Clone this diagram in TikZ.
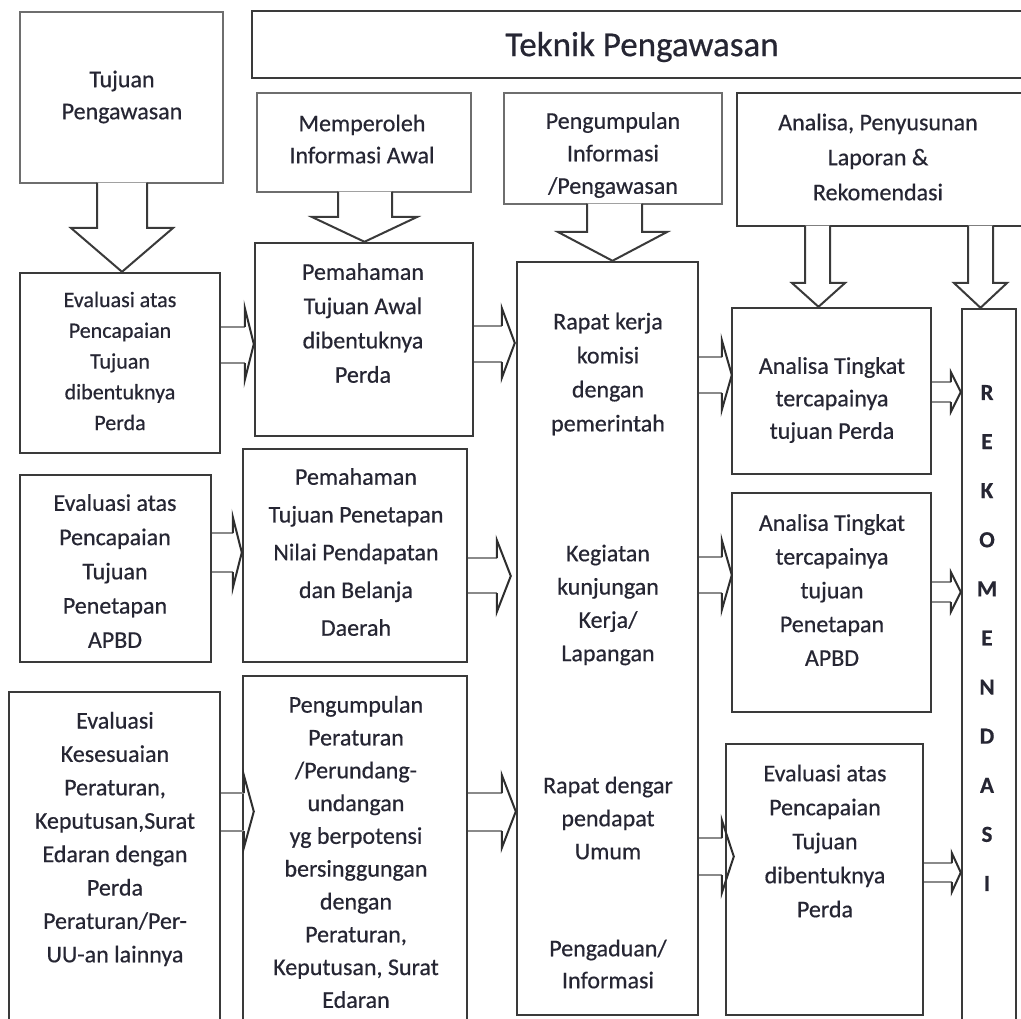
\documentclass[tikz,border=0pt]{standalone}
\usepackage{fontspec}
\setmainfont{Carlito}[FakeBold=0.5]
\usetikzlibrary{calc}
\definecolor{ln}{HTML}{3A3A3A}
\definecolor{lnl}{HTML}{6E6E6E}
\definecolor{shaft}{HTML}{8A8A8A}
\definecolor{tx}{HTML}{262633}
\tikzset{
  box/.style={draw=ln, line width=2.4pt, rectangle, inner sep=0pt, fill=white},
  boxl/.style={box, draw=lnl},
  txt/.style={text=tx, align=center, inner sep=0pt},
  varrow/.style={draw=ln, line width=2pt, fill=white, line join=miter},
  harrow/.style={draw=shaft, line width=2pt, line join=miter},
}
\newcommand\bx[6][box]{\node[#1, minimum width={(#5-#3)*1pt}, minimum height={(#6-#4)*1pt}] (#2) at ({(#3+#5)/2},{(#4+#6)/2}) {};}
% vertical block arrow: src tgt shaftleft shaftright wingleft wingright wingy
\newcommand\varr[7]{\draw[varrow] let \p1=(#1.south), \p2=(#2.north) in
  (#3pt,\y1+1.5pt) -- (#3pt,-#7pt) -- (#5pt,-#7pt) -- ({(#5+#6)/2*1pt},\y2) -- (#6pt,-#7pt) -- (#4pt,-#7pt) -- (#4pt,\y1+1.5pt);}
% horizontal block arrow: src tgt shafttop shaftbottom headtop headbottom headlen tipoffset
\newcommand\harr[8]{\draw[harrow] let \p1=(#1.east), \p2=(#2.west) in
  (\x1,-#3pt) -- (\x2+#8pt-#7pt,-#3pt) (\x2+#8pt-#7pt,-#4pt) -- (\x1,-#4pt);
  \draw[varrow, fill=none, draw=ln!80!black] let \p1=(#1.east), \p2=(#2.west) in
  (\x2+#8pt-#7pt,-#3pt) -- (\x2+#8pt-#7pt,-#5pt) -- (\x2+#8pt,{-(#5+#6)/2*1pt}) -- (\x2+#8pt-#7pt,-#6pt) -- (\x2+#8pt-#7pt,-#4pt);}
\begin{document}
\begin{tikzpicture}[x=1pt,y=-1pt]
\useasboundingbox (0,0) rectangle (1021,1019);
\fill[white] (0,0) rectangle (1021,1019);
% boxes
\bx[boxl]{tp}{20}{12}{223}{183}
\bx[boxl]{mi}{257}{93}{471}{192}
\bx[boxl]{pi}{504}{93}{722}{204}
\bx{ap}{737}{93}{1040}{226}
\bx{title}{252}{11}{1040}{78}
\bx{e1}{20}{273}{220}{453}
\bx{pa}{255}{243}{473}{436}
\bx{e2}{20}{475}{211}{662}
\bx{pp}{243}{449}{467}{662}
\bx{ek}{9}{692}{220}{1045}
\bx{pr}{243}{676}{467}{1045}
\bx{big}{517}{262}{698}{1015}
\bx{a1}{732}{308}{931}{474}
\bx{a2}{732}{493}{931}{712}
\bx{er}{726}{744}{923}{1015}
\bx{rk}{962}{309}{1016}{1045}
% vertical arrows
\varr{tp}{e1}{97}{147}{71}{173}{228}
\varr{mi}{pa}{338}{392}{312}{417}{217}
\varr{pi}{big}{587}{642}{558}{667}{232}
\varr{ap}{a1}{805}{830}{792}{845}{283}
\varr{ap}{rk}{968}{993}{954}{1007}{283}
% horizontal arrows
\harr{e1}{pa}{327}{363}{308}{380}{9}{0}
\harr{pa}{big}{326}{362}{308}{378}{13}{-1}
\harr{e2}{pp}{533}{572}{517}{588}{9}{0}
\harr{pp}{big}{558}{593}{540}{612}{14}{-5}
\harr{ek}{pr}{793}{831}{775}{848}{10}{12}
\harr{pr}{big}{793}{831}{775}{848}{14}{0}
\harr{big}{a1}{357}{393}{340}{410}{10}{1}
\harr{big}{a2}{557}{593}{540}{610}{10}{1}
\harr{big}{er}{838}{875}{820}{893}{12}{9}
\harr{a1}{rk}{382}{402}{372}{412}{10}{0}
\harr{a2}{rk}{582}{602}{572}{612}{10}{0}
\harr{er}{rk}{863}{882}{853}{892}{9}{0}
% texts
\node[txt, font=\fontsize{35}{40}\selectfont] (ttitle) at (642,47) {Teknik Pengawasan};
\node[txt, font=\fontsize{24}{32}\selectfont] (ttp) at (122,97) {Tujuan\\Pengawasan};
\node[txt, font=\fontsize{24}{32}\selectfont] (tmi) at (362,139) {Memperoleh\\Informasi Awal};
\node[txt, font=\fontsize{24}{32.5}\selectfont] (tpi) at (613,155) {Pengumpulan\\Informasi\\/Pengawasan};
\node[txt, font=\fontsize{24}{35}\selectfont] (tap) at (878,157) {Analisa, Penyusunan\\Laporan \&\\Rekomendasi};
\node[txt, font=\fontsize{22}{30.75}\selectfont] (te1) at (120,361) {Evaluasi atas\\Pencapaian\\Tujuan\\dibentuknya\\Perda};
\node[txt, font=\fontsize{24}{34.3}\selectfont] (tpa) at (363,323) {Pemahaman\\Tujuan Awal\\dibentuknya\\Perda};
\node[txt, font=\fontsize{24}{34.25}\selectfont] (te2) at (115,571) {Evaluasi atas\\Pencapaian\\Tujuan\\Penetapan\\APBD};
\node[txt, font=\fontsize{24}{37.75}\selectfont] (tpp) at (356,552) {Pemahaman\\Tujuan Penetapan\\Nilai Pendapatan\\dan Belanja\\Daerah};
\node[txt, font=\fontsize{24}{33.4}\selectfont] (tek) at (115,839) {Evaluasi\\Kesesuaian\\Peraturan,\\Keputusan,Surat\\Edaran dengan\\Perda\\Peraturan/Per-\\UU-an lainnya};
\node[txt, font=\fontsize{24}{32.8}\selectfont] (tpr) at (356,852) {Pengumpulan\\Peraturan\\/Perundang-\\undangan\\yg berpotensi\\bersinggungan\\dengan\\Peraturan,\\Keputusan, Surat\\Edaran};
\node[txt, font=\fontsize{24}{34}\selectfont] (tb1) at (608,374) {Rapat kerja\\komisi\\dengan\\pemerintah};
\node[txt, font=\fontsize{24}{33.3}\selectfont] (tb2) at (608,605) {Kegiatan\\kunjungan\\Kerja/\\Lapangan};
\node[txt, font=\fontsize{24}{33}\selectfont] (tb3) at (608,818) {Rapat dengar\\pendapat\\Umum};
\node[txt, font=\fontsize{24}{32}\selectfont] (tb4) at (608,964) {Pengaduan/\\Informasi};
\node[txt, font=\fontsize{24}{32.5}\selectfont] (ta1) at (832,400) {Analisa Tingkat\\tercapainya\\tujuan Perda};
\node[txt, font=\fontsize{24}{33.75}\selectfont] (ta2) at (832,590) {Analisa Tingkat\\tercapainya\\tujuan\\Penetapan\\APBD};
\node[txt, font=\fontsize{24}{34}\selectfont] (ter) at (825,841) {Evaluasi atas\\Pencapaian\\Tujuan\\dibentuknya\\Perda};
\node[txt, font=\bfseries\fontsize{23}{49.1}\selectfont] (trk) at (987,638) {R\\E\\K\\O\\M\\E\\N\\D\\A\\S\\I};
\end{tikzpicture}
\end{document}
